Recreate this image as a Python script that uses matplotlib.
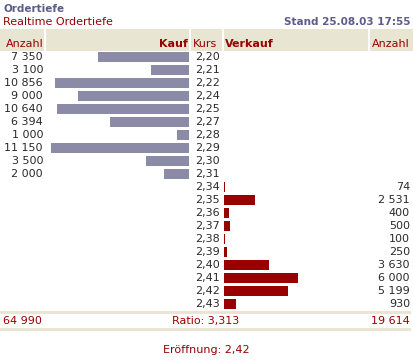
import numpy as np
import matplotlib
matplotlib.use("Agg")
import matplotlib.pyplot as plt

# order book data
kurs = ["2,20", "2,21", "2,22", "2,24", "2,25", "2,27", "2,28", "2,29", "2,30", "2,31",
        "2,34", "2,35", "2,36", "2,37", "2,38", "2,39", "2,40", "2,41", "2,42", "2,43"]
kauf = [7350, 3100, 10856, 9000, 10640, 6394, 1000, 11150, 3500, 2000]
verkauf = [74, 2531, 400, 500, 100, 250, 3630, 6000, 5199, 930]
eroeffnung = "2,42"
stand = "Stand 25.08.03 17:55"

RED = "#990000"
PURPLE = "#5c5c8a"
BEIGE = "#e8e6d3"
BUY = "#8b8ba8"
DARK = "#2a2a2a"


def fmt(v):
    return f"{v:,}".replace(",", " ")


fig = plt.figure(figsize=(4.13, 3.60), dpi=100)
ax = fig.add_axes([0, 0, 1, 1])
ax.set_xlim(0, 413)
ax.set_ylim(360, 0)
ax.axis("off")

fs = 8

# titles
ax.text(3, 9, "Ordertiefe", color=PURPLE, fontsize=7.5, fontweight="bold", va="center")
ax.text(3, 22, "Realtime Ordertiefe", color=RED, fontsize=fs, va="center")
ax.text(410, 22, stand, color=PURPLE, fontsize=7.5, fontweight="bold", va="center", ha="right")

# header band (columns separated by white gaps)
cols = [(0, 44), (46, 189), (191, 222), (224, 368), (370, 413)]
for x0, x1 in cols:
    ax.add_patch(plt.Rectangle((x0, 29), x1 - x0, 22, color=BEIGE, lw=0))
ax.text(6, 44, "Anzahl", color=RED, fontsize=fs, va="center")
ax.text(188, 44, "Kauf", color=RED, fontsize=fs, fontweight="bold", va="center", ha="right")
ax.text(193, 44, "Kurs", color=RED, fontsize=fs, va="center")
ax.text(225, 44, "Verkauf", color=RED, fontsize=fs, fontweight="bold", va="center")
ax.text(410, 44, "Anzahl", color=RED, fontsize=fs, va="center", ha="right")

# rows
y0, pitch = 57, 13
ypos = y0 + pitch * np.arange(len(kurs))
scale = 138 / max(kauf + verkauf)
nb = len(kauf)

kauf_w = np.array(kauf) * scale
ax.barh(ypos[:nb], kauf_w, left=189 - kauf_w, height=10, color=BUY, lw=0)
verk_w = np.maximum(np.array(verkauf) * scale, 1)
ax.barh(ypos[nb:], verk_w, left=224, height=10, color=RED, lw=0)

for y, k in zip(ypos, kurs):
    ax.text(220, y, k, color=DARK, fontsize=fs, va="center", ha="right")
for y, v in zip(ypos[:nb], kauf):
    ax.text(43, y, fmt(v), color=DARK, fontsize=fs, va="center", ha="right")
for y, v in zip(ypos[nb:], verkauf):
    ax.text(410, y, fmt(v), color=DARK, fontsize=fs, va="center", ha="right")

# footer
ax.add_patch(plt.Rectangle((0, 311), 411, 2.5, color=BEIGE, lw=0))
ax.add_patch(plt.Rectangle((0, 328), 411, 2.5, color=BEIGE, lw=0))
total_k = sum(kauf)
total_v = sum(verkauf)
ratio = f"{total_k / total_v:.3f}".replace(".", ",")
ax.text(3, 321, fmt(total_k), color=RED, fontsize=fs, va="center")
ax.text(206, 321, "Ratio: " + ratio, color=RED, fontsize=fs, va="center", ha="center")
ax.text(410, 321, fmt(total_v), color=RED, fontsize=fs, va="center", ha="right")
ax.text(206, 350, "Eröffnung: " + eroeffnung, color=RED, fontsize=fs, va="center", ha="center")

fig.savefig("out.png", dpi=100)
